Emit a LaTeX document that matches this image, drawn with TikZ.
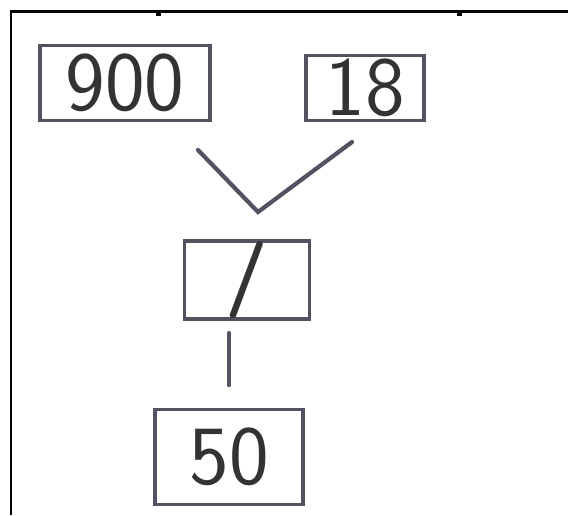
\documentclass[tikz,border=0pt]{standalone}
\usepackage{fontspec}
\definecolor{pencil}{rgb}{0.32,0.32,0.38}
\begin{document}
\begin{tikzpicture}[x=0.02cm,y=-0.02cm,
  numbox/.style={draw=pencil,line width=2.2pt,inner sep=0pt,
    font=\sffamily\fontsize{48}{48}\selectfont,text=black!80},
  stroke/.style={draw=pencil,line width=2.4pt,line cap=round}]
\useasboundingbox (0,0) rectangle (568,515);

% scan frame
\draw[line width=0.06cm] (11,515) -- (11,11) -- (568,11);
\fill (156,11) rectangle (161,16);
\fill (457,11) rectangle (462,16);

\node[numbox,minimum width=3.4cm,minimum height=1.5cm] (num900) at (125,83) {900};
\node[numbox,minimum width=2.36cm,minimum height=1.3cm] (num18) at (365,88) {18};
\node[numbox,minimum width=2.5cm,minimum height=1.5cm,
  font=\sffamily\bfseries\fontsize{44}{44}\selectfont] (div) at (247,280) {/};
\node[numbox,minimum width=2.96cm,minimum height=1.9cm] (num50) at (229,457) {50};

\coordinate (leftend) at (198,150);
\coordinate (rightend) at (352,142);
\coordinate (meet) at (258,212);

\draw[stroke] (leftend) -- (meet) -- (rightend);
\draw[stroke,shorten <=0.25cm,shorten >=0.45cm] (div.south -| num50.north) -- (num50.north);
\end{tikzpicture}
\end{document}
